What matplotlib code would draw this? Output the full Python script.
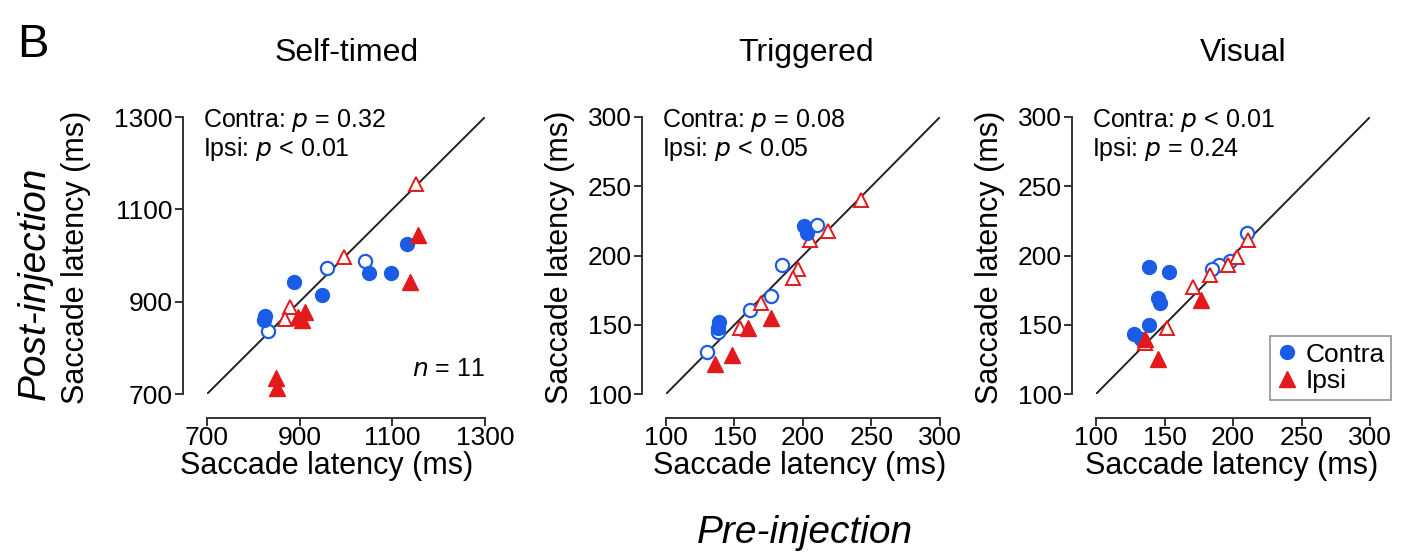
import matplotlib
matplotlib.use("Agg")
import matplotlib.pyplot as plt
from matplotlib.lines import Line2D

plt.rcParams['font.family'] = ['Liberation Sans', 'DejaVu Sans']

BLUE = '#1a5ce6'
RED = '#e31a1c'

# ---------------- data ----------------
# Self-timed
st_contra_filled_x = [1131, 1050, 1097, 887, 948, 826, 822]
st_contra_filled_y = [1025, 962, 963, 942, 915, 868, 860]
st_contra_open_x = [1040, 960, 832]
st_contra_open_y = [988, 972, 836]
st_ipsi_filled_x = [1155, 1138, 912, 896, 904, 848, 850]
st_ipsi_filled_y = [1045, 942, 878, 866, 860, 735, 712]
st_ipsi_open_x = [1150, 996, 880, 868]
st_ipsi_open_y = [1155, 997, 888, 862]

# Triggered
tr_contra_filled_x = [201, 203, 139, 138]
tr_contra_filled_y = [221, 216, 152, 148]
tr_contra_open_x = [210, 185, 177, 161, 138, 130]
tr_contra_open_y = [222, 193, 171, 161, 145, 130]
tr_ipsi_filled_x = [177, 160, 148, 136]
tr_ipsi_filled_y = [155, 148, 128, 122]
tr_ipsi_open_x = [242, 218, 205, 196, 193, 169, 154]
tr_ipsi_open_y = [240, 218, 211, 190, 184, 166, 148]

# Visual
vi_contra_filled_x = [139, 153, 145, 147, 139, 128, 133]
vi_contra_filled_y = [192, 188, 169, 166, 150, 143, 140]
vi_contra_open_x = [210, 198, 190, 185]
vi_contra_open_y = [216, 196, 193, 190]
vi_ipsi_filled_x = [177, 136, 145]
vi_ipsi_filled_y = [168, 140, 125]
vi_ipsi_open_x = [211, 203, 196, 183, 171, 152, 136]
vi_ipsi_open_y = [211, 199, 193, 186, 177, 148, 137]

titles = ['Self-timed', 'Triggered', 'Visual']
limits = [(700, 1300), (100, 300), (100, 300)]
ticks = [[700, 900, 1100, 1300], [100, 150, 200, 250, 300], [100, 150, 200, 250, 300]]
stats = [('Contra: $p$ = 0.32', 'Ipsi: $p$ < 0.01'),
         ('Contra: $p$ = 0.08', 'Ipsi: $p$ < 0.05'),
         ('Contra: $p$ < 0.01', 'Ipsi: $p$ = 0.24')]

panels = [
    (st_contra_filled_x, st_contra_filled_y, st_contra_open_x, st_contra_open_y,
     st_ipsi_filled_x, st_ipsi_filled_y, st_ipsi_open_x, st_ipsi_open_y),
    (tr_contra_filled_x, tr_contra_filled_y, tr_contra_open_x, tr_contra_open_y,
     tr_ipsi_filled_x, tr_ipsi_filled_y, tr_ipsi_open_x, tr_ipsi_open_y),
    (vi_contra_filled_x, vi_contra_filled_y, vi_contra_open_x, vi_contra_open_y,
     vi_ipsi_filled_x, vi_ipsi_filled_y, vi_ipsi_open_x, vi_ipsi_open_y),
]

W, H = 1409, 556
fig = plt.figure(figsize=(W / 100, H / 100), dpi=100)

# axes pixel boxes: (left, right) x and (top, bottom) y
xbox = [(207, 485), (666, 940), (1096, 1370)]
ytop, ybot = 117, 394

TICK_FS = 19
for i, (data, title, lim, tk, st) in enumerate(zip(panels, titles, limits, ticks, stats)):
    x0, x1 = xbox[i]
    ax = fig.add_axes([x0 / W, 1 - ybot / H, (x1 - x0) / W, (ybot - ytop) / H])
    ax.set_xlim(lim)
    ax.set_ylim(lim)
    ax.plot(lim, lim, color='#222222', lw=1.4, zorder=1)
    cfx, cfy, cox, coy, ifx, ify, iox, ioy = data
    ax.plot(cox, coy, 'o', ms=9.5, mfc='white', mec=BLUE, mew=1.6, ls='none', zorder=3, clip_on=False)
    ax.plot(iox, ioy, '^', ms=10.5, mfc='white', mec=RED, mew=1.4, ls='none', zorder=3, clip_on=False)
    ax.plot(cfx, cfy, 'o', ms=10, mfc=BLUE, mec=BLUE, ls='none', zorder=4, clip_on=False)
    ax.plot(ifx, ify, '^', ms=11, mfc=RED, mec=RED, ls='none', zorder=4, clip_on=False)

    for s in ['top', 'right']:
        ax.spines[s].set_visible(False)
    ax.spines['left'].set_position(('outward', 17))
    ax.spines['bottom'].set_position(('outward', 17))
    ax.spines['left'].set_bounds(lim)
    ax.spines['bottom'].set_bounds(lim)
    for s in ['left', 'bottom']:
        ax.spines[s].set_linewidth(1.4)
        ax.spines[s].set_color('#333333')
    ax.set_xticks(tk)
    ax.set_yticks(tk)
    ax.tick_params(length=5.5, width=1.4, color='#333333', labelsize=TICK_FS)
    ax.tick_params(axis='x', pad=0.5)
    ax.tick_params(axis='y', pad=2)

    # stats text
    ax.text(-0.015, 1.035, st[0], transform=ax.transAxes, fontsize=18, va='top', ha='left')
    ax.text(-0.015, 0.935, st[1], transform=ax.transAxes, fontsize=18, va='top', ha='left')

    # title
    tx = [347, 806, 1243][i]
    fig.text(tx / W, 1 - 53 / H, title, fontsize=23, ha='center', va='center')
    # axis labels
    xl = [327, 800, 1232][i]
    fig.text(xl / W, 1 - 466 / H, 'Saccade latency (ms)', fontsize=22, ha='center', va='center')
    yl = [76, 560, 990][i]
    fig.text(yl / W, 1 - 257 / H, 'Saccade latency (ms)', fontsize=22, ha='center', va='center',
             rotation=90)

    if i == 0:
        ax.text(1.0, 0.09, '$n$ = 11', transform=ax.transAxes, fontsize=18, ha='right', va='center')
    if i == 2:
        handles = [Line2D([], [], marker='o', color=BLUE, ls='none', ms=10),
                   Line2D([], [], marker='^', color=RED, ls='none', ms=11)]
        leg = ax.legend(handles, ['Contra', 'Ipsi'], loc='upper left',
                        bbox_to_anchor=((1270 - x0) / (x1 - x0), (ybot - 336) / (ybot - ytop)),
                        fontsize=19, frameon=True, fancybox=False, borderpad=0.25,
                        handlelength=0.8, handletextpad=0.3, labelspacing=0.1,
                        borderaxespad=0)
        leg.get_frame().set_edgecolor('#777777')
        leg.get_frame().set_linewidth(1.2)

fig.text(35 / W, 1 - 283 / H, 'Post-injection', fontsize=28, style='italic',
         ha='center', va='center', rotation=90)
fig.text(805 / W, 1 - 533 / H, 'Pre-injection', fontsize=28, style='italic',
         ha='center', va='center')
fig.text(33 / W, 1 - 45 / H, 'B', fontsize=34, ha='center', va='center')

fig.savefig('out.png', dpi=100)
